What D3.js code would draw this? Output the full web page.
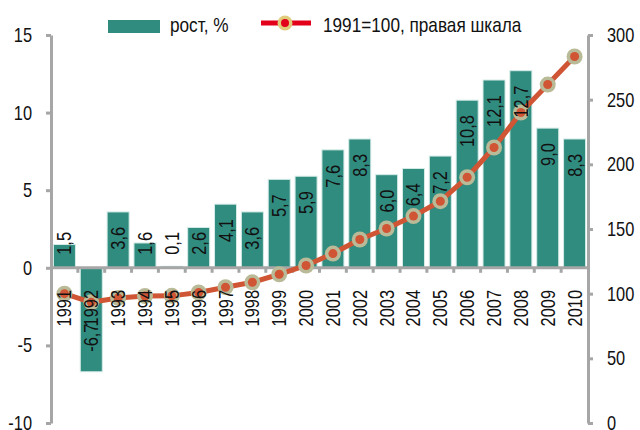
<!DOCTYPE html>
<html><head><meta charset="utf-8">
<script src="https://cdn.jsdelivr.net/npm/d3@7/dist/d3.min.js"></script>
<style>
body{margin:0;background:#fff;}
svg text{font-family:"Liberation Sans",Arial,sans-serif;font-size:20px;fill:#111;}
</style></head>
<body><svg id="c" width="640" height="430"></svg>
<script>
const years = [1991,1992,1993,1994,1995,1996,1997,1998,1999,2000,2001,2002,2003,2004,2005,2006,2007,2008,2009,2010];
const growth = [1.5,-6.7,3.6,1.6,0.1,2.6,4.1,3.6,5.7,5.9,7.6,8.3,6.0,6.4,7.2,10.8,12.1,12.7,9.0,8.3];
const index1991 = [100,93.3,96.7,98.2,98.3,100.9,105.0,108.8,115.0,121.8,131.0,141.9,150.4,160.0,171.5,190.0,213.0,240.1,261.7,283.4];
const leftTicks = [-10,-5,0,5,10,15];
const rightTicks = [0,50,100,150,200,250,300];
const legendLabels = ["рост, %","1991=100, правая шкала"];

const SX = 0.82; // narrow font emulation
const SXL = 0.86;
const svg = d3.select("#c");
const x = d3.scaleBand().domain(years).range([51,588]).paddingInner(0.18).paddingOuter(0.09);
const yL = d3.scaleLinear().domain([-10,15]).range([423,35]);
const yR = d3.scaleLinear().domain([0,300]).range([423,35]);
const AX = "#a6a6a6";
const fmt = v => d3.format(".1f")(v).replace(".",",").replace("\u2212","-");
const fmtInt = v => String(v);

// bars
svg.append("g").selectAll("rect").data(years).join("rect")
  .attr("x", d => x(d)).attr("width", x.bandwidth())
  .attr("y", (d,i) => yL(Math.max(0,growth[i])))
  .attr("height", (d,i) => Math.abs(yL(growth[i]) - yL(0)))
  .attr("fill", "#318c80").attr("stroke", "#d4ebe6").attr("stroke-width", 1);

// left axis
const gl = svg.append("g").attr("transform","translate(51,0)")
  .call(d3.axisLeft(yL).tickValues(leftTicks).tickSize(5).tickSizeOuter(0).tickPadding(14).tickFormat(fmtInt));
// right axis
const gr = svg.append("g").attr("transform","translate(588,0)")
  .call(d3.axisRight(yR).tickValues(rightTicks).tickSize(5).tickSizeOuter(0).tickPadding(14).tickFormat(fmtInt));
[gl,gr].forEach(g=>{
  g.select(".domain").attr("stroke",AX).attr("stroke-width",3);
  g.selectAll(".tick line").attr("stroke",AX).attr("stroke-width",3);
  g.selectAll(".tick text").style("font-size","20px").attr("fill","#111")
    .each(function(){ const s=d3.select(this); s.attr("x", (+s.attr("x"))/SX).attr("transform",`scale(${SX},1)`); });
});

// zero line with ticks at band boundaries
const y0 = yL(0);
svg.append("line").attr("x1",51).attr("x2",588).attr("y1",y0).attr("y2",y0).attr("stroke",AX).attr("stroke-width",3);
const bounds = years.slice(1).map(d => x(d) - x.step()*x.paddingInner()/2);
svg.append("g").selectAll("line").data(bounds).join("line")
  .attr("x1",d=>d).attr("x2",d=>d).attr("y1",y0).attr("y2",y0+5).attr("stroke",AX).attr("stroke-width",3);

// line
const cx = d => x(d) + x.bandwidth()/2;
svg.append("path").datum(years)
  .attr("d", d3.line().x(d=>cx(d)).y((d,i)=>yR(index1991[i])))
  .attr("fill","none").attr("stroke","#cf5535").attr("stroke-width",5).attr("stroke-linejoin","round");
const mk = svg.append("g").selectAll("g").data(years).join("g");
mk.append("circle").attr("cx",cx).attr("cy",(d,i)=>yR(index1991[i])).attr("r",8).attr("fill","#b9ba97");
mk.append("circle").attr("cx",cx).attr("cy",(d,i)=>yR(index1991[i])).attr("r",4.5).attr("fill","#cf5535");

// year labels
svg.append("g").selectAll("text").data(years).join("text")
  .attr("transform", d => `translate(${cx(d)},290) rotate(-90) scale(${SX},1)`)
  .attr("dy","0.35em").attr("text-anchor","end").text(d=>d);

// value labels
const vl = svg.append("g").selectAll("text").data(years).join("text")
  .attr("dy","0.35em").text((d,i)=>fmt(growth[i]));
vl.each(function(d,i){
  const len = this.getComputedTextLength()*SX;
  const v = growth[i];
  let top;
  if (v >= 0) top = Math.min(yL(v) + 15, y0 - 13 - len);
  else top = yL(v) - 20 - len;
  d3.select(this).attr("text-anchor","end").attr("transform",`translate(${cx(d)},${top}) rotate(-90) scale(${SX},1)`);
});

// legend
const lg = svg.append("g");
lg.append("rect").attr("x",108).attr("y",20).attr("width",52).attr("height",13).attr("fill","#318c80");
lg.append("text").attr("transform",`translate(170,32) scale(${SXL},1)`).text(legendLabels[0]);
lg.append("line").attr("x1",261).attr("x2",311).attr("y1",23).attr("y2",23).attr("stroke","#e2001a").attr("stroke-width",5);
lg.append("circle").attr("cx",285).attr("cy",23).attr("r",7.5).attr("fill","#e0cc7a");
lg.append("circle").attr("cx",285).attr("cy",23).attr("r",4).attr("fill","#e2001a");
lg.append("text").attr("transform",`translate(323,32) scale(${SXL},1)`).text(legendLabels[1]);
</script></body></html>
